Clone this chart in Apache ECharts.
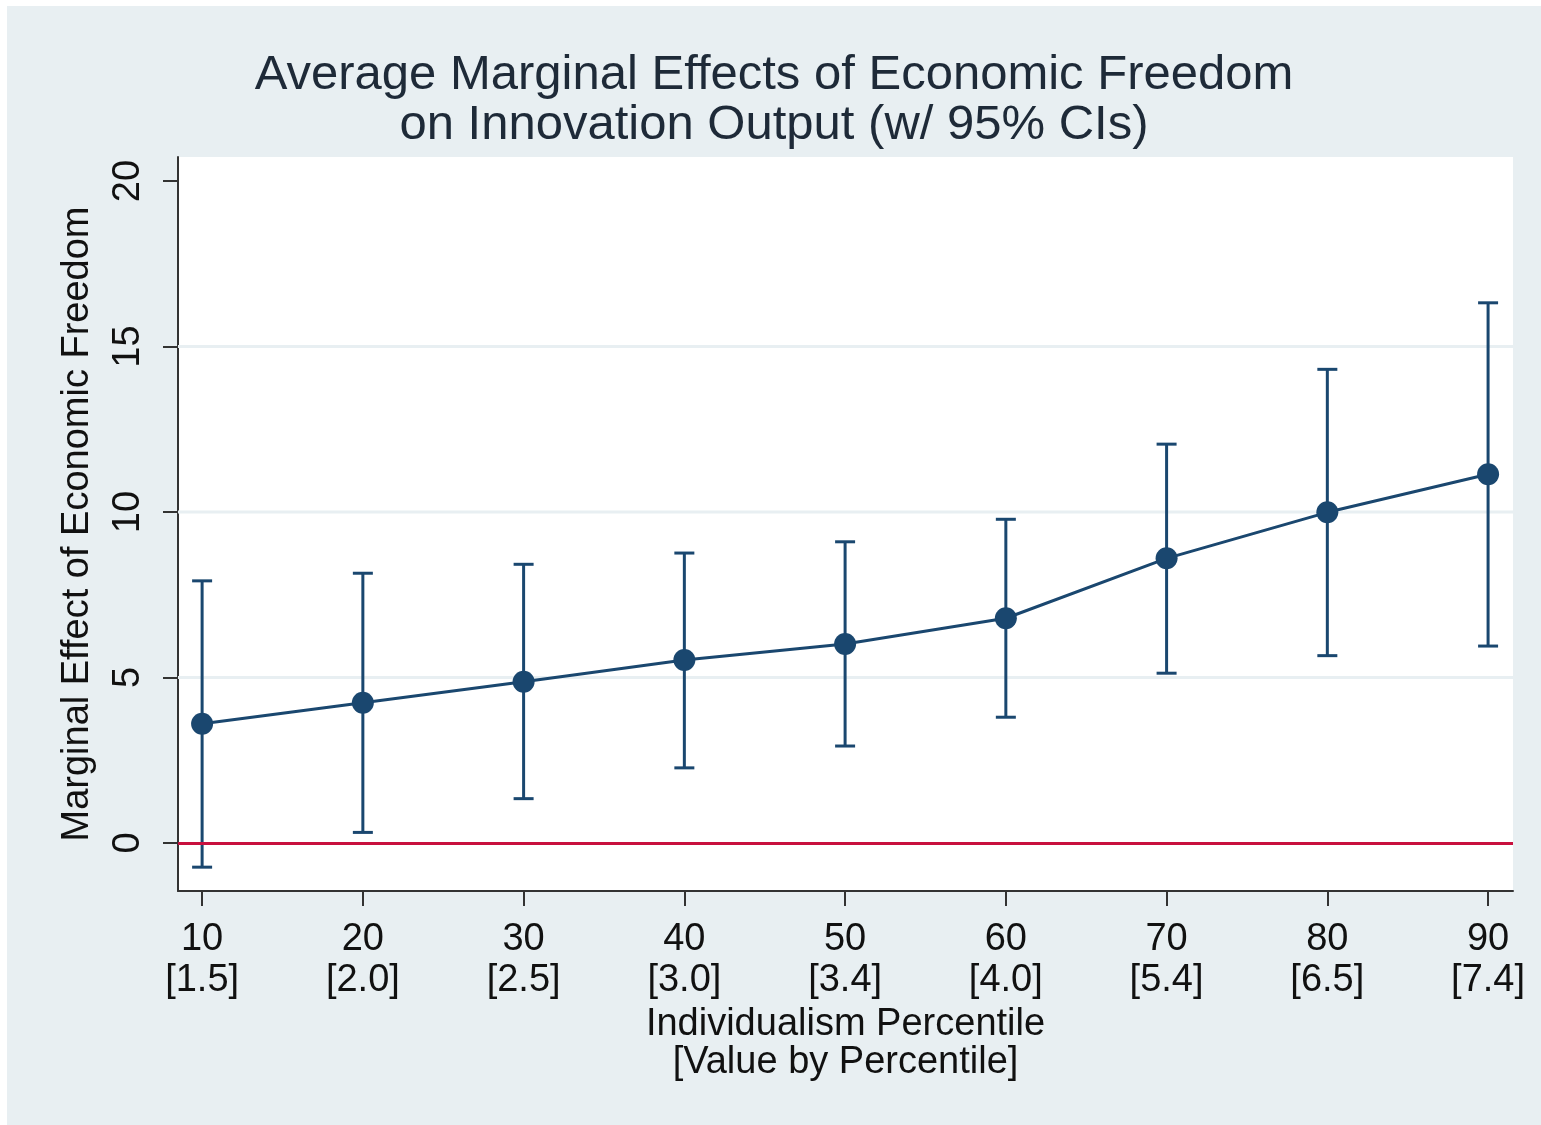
<!DOCTYPE html>
<html>
<head>
<meta charset="utf-8">
<title>Average Marginal Effects of Economic Freedom</title>
<script src="https://cdn.jsdelivr.net/npm/echarts@6/dist/echarts.min.js"></script>
<style>
  html, body { margin: 0; padding: 0; background: #ffffff; }
  #chart { position: absolute; left: 7px; top: 6px; width: 1534px; height: 1119px; }
</style>
</head>
<body>
<div id="chart"></div>
<script>
// Individualism percentiles and the individualism value at each percentile
const percentiles = [10, 20, 30, 40, 50, 60, 70, 80, 90];
const percentileValues = ['1.5', '2.0', '2.5', '3.0', '3.4', '4.0', '5.4', '6.5', '7.4'];

// Average marginal effect of economic freedom and its 95% confidence bounds
const marginalEffect = [3.60, 4.24, 4.87, 5.53, 6.01, 6.79, 8.60, 9.99, 11.14];
const ciLower = [-0.73, 0.32, 1.34, 2.27, 2.93, 3.80, 5.13, 5.66, 5.95];
const ciUpper = [7.92, 8.15, 8.42, 8.76, 9.10, 9.78, 12.05, 14.31, 16.32];

// Axis ticks and the gridlines drawn across the plot
const yTicks = [0, 5, 10, 15, 20];
const yGridlines = [5, 10, 15];

const navy = '#1a476f';
const fontFamily = '"Liberation Sans", Arial, sans-serif';

const pointData = percentiles.map((p, i) => [p, marginalEffect[i]]);
const ciData = percentiles.map((p, i) => [p, ciLower[i], ciUpper[i]]);
const labelFor = {};
percentiles.forEach((p, i) => { labelFor[p] = p + '\n[' + percentileValues[i] + ']'; });

const chart = echarts.init(document.getElementById('chart'), null, { renderer: 'canvas' });

chart.setOption({
  backgroundColor: '#e8eff2',
  animation: false,
  title: {
    text: 'Average Marginal Effects of Economic Freedom\non Innovation Output (w/ 95% CIs)',
    left: 'center',
    top: 44,
    padding: 0,
    textStyle: {
      fontFamily: fontFamily,
      fontSize: 49,
      lineHeight: 50,
      fontWeight: 'normal',
      color: '#1e2a38'
    }
  },
  grid: {
    left: 171,
    right: 28,
    top: 151,
    bottom: 234,
    show: true,
    backgroundColor: '#ffffff',
    borderWidth: 0
  },
  xAxis: {
    type: 'value',
    min: 8.5,
    max: 91.55,
    name: 'Individualism Percentile\n[Value by Percentile]',
    nameLocation: 'middle',
    nameGap: 112,
    nameTextStyle: {
      fontFamily: fontFamily,
      fontSize: 38,
      lineHeight: 38,
      color: '#111111'
    },
    axisLine: { show: true, onZero: false, lineStyle: { color: '#333333', width: 2 } },
    axisTick: { show: true, length: 15, customValues: percentiles, lineStyle: { color: '#333333', width: 2 } },
    axisLabel: {
      customValues: percentiles,
      margin: 28,
      fontFamily: fontFamily,
      fontSize: 38,
      lineHeight: 41,
      color: '#111111',
      formatter: v => labelFor[v] || ''
    },
    splitLine: { show: false }
  },
  yAxis: {
    type: 'value',
    min: -1.45,
    max: 20.725,
    name: 'Marginal Effect of Economic Freedom',
    nameLocation: 'middle',
    nameGap: 81,
    nameTextStyle: {
      fontFamily: fontFamily,
      fontSize: 38,
      color: '#111111'
    },
    axisLine: { show: true, onZero: false, lineStyle: { color: '#333333', width: 2 } },
    axisTick: { show: true, length: 15, customValues: yTicks, lineStyle: { color: '#333333', width: 2 } },
    axisLabel: {
      customValues: yTicks,
      rotate: 90,
      margin: 30,
      fontFamily: fontFamily,
      fontSize: 38,
      color: '#111111'
    },
    splitLine: { show: false }
  },
  series: [
    {
      // faint horizontal gridlines
      type: 'custom',
      silent: true,
      z: 1,
      data: yGridlines.map(v => [v]),
      renderItem: (params, api) => {
        const y = api.coord([0, api.value(0)])[1];
        const cs = params.coordSys;
        return {
          type: 'line',
          shape: { x1: cs.x, y1: y, x2: cs.x + cs.width, y2: y },
          style: { stroke: '#e8eff2', lineWidth: 3 }
        };
      }
    },
    {
      // 95% confidence interval bars with caps
      type: 'custom',
      z: 3,
      data: ciData,
      renderItem: (params, api) => {
        const lo = api.coord([api.value(0), api.value(1)]);
        const hi = api.coord([api.value(0), api.value(2)]);
        const cap = 10;
        const style = { stroke: navy, lineWidth: 3 };
        return {
          type: 'group',
          children: [
            { type: 'line', shape: { x1: lo[0], y1: lo[1], x2: hi[0], y2: hi[1] }, style },
            { type: 'line', shape: { x1: hi[0] - cap, y1: hi[1], x2: hi[0] + cap, y2: hi[1] }, style },
            { type: 'line', shape: { x1: lo[0] - cap, y1: lo[1], x2: lo[0] + cap, y2: lo[1] }, style }
          ]
        };
      }
    },
    {
      type: 'line',
      z: 4,
      data: pointData,
      symbol: 'circle',
      symbolSize: 22,
      lineStyle: { color: navy, width: 3 },
      itemStyle: { color: navy },
      markLine: {
        silent: true,
        symbol: 'none',
        label: { show: false },
        lineStyle: { color: '#c8103e', width: 3, type: 'solid' },
        data: [{ yAxis: 0 }]
      }
    }
  ]
});
</script>
</body>
</html>
